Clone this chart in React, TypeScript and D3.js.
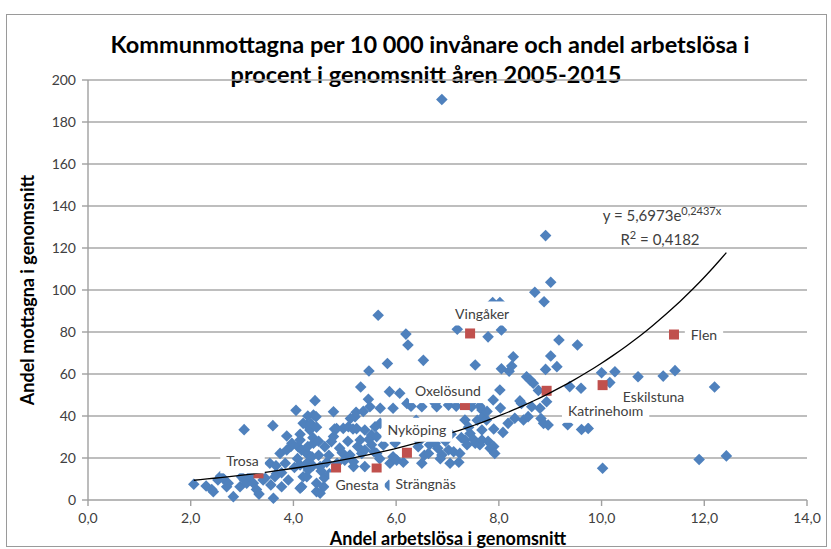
import React, { useEffect, useRef } from "react";
import * as d3 from "d3";

// [andel arbetslösa, mottagna per 10 000] for each kommun
const kommuner: [number, number][] = [
  [2.06, 7.5], [2.3, 6.7], [2.41, 5.0], [2.44, 3.9], [2.53, 9.5], [2.58, 11.3], [2.63, 10.3],
  [2.7, 6.3], [2.73, 8.0], [2.83, 1.6], [2.96, 6.3], [2.99, 11.1], [3.04, 33.5], [3.04, 9.7],
  [3.09, 8.0], [3.15, 11.3], [3.22, 8.0], [3.28, 5.0], [3.33, 2.8], [3.41, 9.5], [3.45, 10.5],
  [3.54, 17.5], [3.56, 7.2], [3.6, 35.4], [3.61, 0.8], [3.64, 11.1], [3.66, 16.3], [3.67, 12.5],
  [3.74, 22.2], [3.77, 13.0], [3.77, 6.3], [3.84, 17.5], [3.87, 23.8], [3.87, 30.5], [3.9, 9.5],
  [3.95, 25.5], [3.97, 27.0], [4.02, 15.5], [4.05, 42.7], [4.08, 19.7], [4.09, 25.4], [4.13, 28.6],
  [4.13, 31.3], [4.13, 16.7], [4.13, 5.6], [4.16, 23.8], [4.16, 6.3], [4.19, 36.5], [4.19, 11.1],
  [4.23, 23.0], [4.26, 15.9], [4.26, 35.7], [4.26, 22.2], [4.26, 11.1], [4.28, 25.5], [4.28, 18.0],
  [4.28, 40.0], [4.29, 14.3], [4.32, 33.3], [4.34, 36.3], [4.36, 20.6], [4.38, 29.7], [4.38, 16.3],
  [4.39, 40.5], [4.39, 27.0], [4.42, 47.3], [4.44, 39.7], [4.45, 34.7], [4.45, 4.0], [4.45, 8.0],
  [4.49, 28.0], [4.49, 21.3], [4.52, 15.9], [4.52, 3.2], [4.54, 13.8], [4.59, 6.3], [4.6, 10.5],
  [4.61, 25.4], [4.65, 18.0], [4.69, 21.3], [4.7, 12.5], [4.74, 27.8], [4.78, 42.0], [4.78, 30.2],
  [4.8, 33.8], [4.84, 34.0], [4.85, 17.5], [4.9, 24.7], [4.95, 22.5], [4.97, 34.1], [5.0, 19.0],
  [5.06, 28.0], [5.07, 34.9], [5.1, 21.4], [5.11, 38.8], [5.16, 33.8], [5.17, 15.9], [5.17, 18.2],
  [5.2, 39.7], [5.22, 41.8], [5.23, 34.0], [5.25, 25.5], [5.3, 28.6], [5.31, 53.8], [5.33, 22.2],
  [5.36, 42.2], [5.39, 33.3], [5.39, 23.8], [5.39, 15.9], [5.46, 48.0], [5.49, 44.4], [5.47, 61.4],
  [5.47, 28.8], [5.52, 31.0], [5.52, 26.3], [5.57, 23.0], [5.59, 34.9], [5.62, 22.2], [5.62, 30.2],
  [5.65, 88.0], [5.68, 19.7], [5.69, 43.7], [5.69, 36.5], [5.75, 26.2], [5.83, 65.0], [5.87, 51.6],
  [5.88, 17.5], [5.86, 7.0], [5.93, 33.8], [5.94, 43.7], [5.94, 20.6], [5.98, 27.2], [6.01, 19.0],
  [6.07, 50.8], [6.14, 18.0], [6.19, 79.0], [6.21, 46.0], [6.23, 73.8], [6.29, 44.7], [6.39, 38.0],
  [6.43, 25.4], [6.45, 28.0], [6.5, 44.4], [6.5, 17.5], [6.53, 66.5], [6.55, 21.3], [6.63, 22.2],
  [6.65, 26.3], [6.75, 33.0], [6.76, 46.0], [6.76, 27.0], [6.79, 44.4], [6.81, 24.7], [6.86, 19.7],
  [6.89, 190.7], [6.89, 21.4], [6.96, 28.0], [7.02, 45.2], [7.02, 23.8], [7.05, 17.5], [7.07, 31.3],
  [7.12, 23.0], [7.17, 44.7], [7.19, 81.3], [7.22, 18.0], [7.24, 22.2], [7.27, 29.7], [7.34, 28.6],
  [7.34, 38.1], [7.38, 26.3], [7.41, 34.7], [7.43, 46.3], [7.44, 31.7], [7.47, 44.4], [7.51, 28.8],
  [7.53, 48.0], [7.54, 64.3], [7.54, 27.0], [7.58, 38.0], [7.63, 44.7], [7.63, 26.3], [7.67, 42.9],
  [7.67, 33.3], [7.67, 28.6], [7.69, 39.7], [7.76, 38.1], [7.77, 42.2], [7.79, 77.7], [7.79, 28.0],
  [7.83, 24.6], [7.88, 94.0], [7.89, 47.6], [7.9, 33.8], [7.9, 25.5], [7.92, 22.2], [8.02, 94.0],
  [8.02, 52.4], [8.03, 43.8], [8.05, 81.0], [8.05, 62.5], [8.08, 32.2], [8.18, 36.5], [8.2, 61.3],
  [8.25, 63.8], [8.28, 68.2], [8.31, 38.9], [8.41, 47.2], [8.44, 46.0], [8.48, 38.1], [8.54, 58.7],
  [8.57, 39.7], [8.61, 57.1], [8.67, 55.6], [8.64, 44.4], [8.7, 98.9], [8.77, 52.2], [8.8, 43.7],
  [8.82, 38.8], [8.87, 36.5], [8.88, 94.4], [8.91, 125.9], [8.91, 62.2], [8.93, 46.8], [8.96, 35.7],
  [9.01, 103.7], [9.01, 68.6], [9.13, 63.5], [9.17, 76.2], [9.34, 35.8], [9.38, 54.0], [9.53, 73.8],
  [9.6, 53.2], [9.61, 33.6], [9.74, 34.1], [10.0, 60.6], [10.02, 15.1], [10.16, 55.9], [10.26, 61.1],
  [10.71, 58.7], [11.2, 59.0], [11.43, 61.6], [11.9, 19.3], [12.2, 53.8], [12.43, 21.0],
];

// Södermanlands kommuner, marked in red
const sormlandNamn = ["Trosa", "Gnesta", "Strängnäs", "Nyköping", "Oxelösund", "Vingåker", "Katrineholm", "Eskilstuna", "Flen"];
const sormlandArbetslosa = [3.32, 4.83, 5.62, 6.21, 7.34, 7.44, 8.93, 10.02, 11.41];
const sormlandMottagna = [12.7, 15.0, 15.0, 22.5, 45.2, 79.3, 52.0, 54.7, 78.8];

const xTicks = [0, 2, 4, 6, 8, 10, 12, 14];
const yTicks = [0, 20, 40, 60, 80, 100, 120, 140, 160, 180, 200];

// exponential trendline from Excel
const trendA = 5.6973;
const trendB = 0.2437;
const trendR2 = 0.4182;

const font = "Lato, 'Liberation Sans', sans-serif";
const blue = "#4F81BD";
const red = "#C0504D";

export default function App() {
  const ref = useRef<SVGSVGElement>(null);

  useEffect(() => {
    document.body.style.margin = "0";
    const svg = d3.select(ref.current);
    svg.selectAll("*").remove();

    const x = d3.scaleLinear().domain([0, 14]).range([88, 807]);
    const y = d3.scaleLinear().domain([0, 200]).range([500, 80]);
    const comma = (v: number, d: number) => v.toFixed(d).replace(".", ",");

    svg.append("rect").attr("x", 6.5).attr("y", 14.5).attr("width", 820).attr("height", 532)
      .attr("fill", "#fff").attr("stroke", "#9a9a9a");

    // title
    const title = svg.append("text").attr("text-anchor", "middle").attr("font-family", font)
      .attr("font-weight", "bold").attr("font-size", 23.5).attr("fill", "#000");
    title.append("tspan").attr("x", 430).attr("y", 53).text("Kommunmottagna per 10 000 invånare och andel arbetslösa i");
    title.append("tspan").attr("x", 426).attr("y", 83).text("procent i genomsnitt åren 2005-2015");

    // gridlines
    svg.append("g").selectAll("line").data(yTicks.filter((t) => t > 0)).join("line")
      .attr("x1", x(0)).attr("x2", x(14)).attr("y1", (d) => y(d)).attr("y2", (d) => y(d))
      .attr("stroke", "#a8a8a8").attr("stroke-width", 1.4);

    // y axis
    const yAxis = svg.append("g");
    yAxis.append("line").attr("x1", x(0)).attr("x2", x(0)).attr("y1", y(0)).attr("y2", y(200))
      .attr("stroke", "#a0a0a0").attr("stroke-width", 1.4);
    yAxis.selectAll("line.tick").data(yTicks).join("line").attr("class", "tick")
      .attr("x1", x(0) - 6).attr("x2", x(0)).attr("y1", (d) => y(d)).attr("y2", (d) => y(d))
      .attr("stroke", "#a0a0a0").attr("stroke-width", 1.4);
    yAxis.selectAll("text").data(yTicks).join("text")
      .attr("x", 76).attr("y", (d) => y(d)).attr("dy", "0.35em").attr("text-anchor", "end")
      .attr("font-family", font).attr("font-size", 14).attr("fill", "#404040").text((d) => String(d));

    // x axis
    const xAxis = svg.append("g");
    xAxis.append("line").attr("x1", x(0)).attr("x2", x(14)).attr("y1", y(0)).attr("y2", y(0))
      .attr("stroke", "#a0a0a0").attr("stroke-width", 1.4);
    xAxis.selectAll("line.tick").data(xTicks).join("line").attr("class", "tick")
      .attr("x1", (d) => x(d)).attr("x2", (d) => x(d)).attr("y1", y(0)).attr("y2", y(0) + 6)
      .attr("stroke", "#a0a0a0").attr("stroke-width", 1.4);
    xAxis.selectAll("text").data(xTicks).join("text")
      .attr("x", (d) => x(d)).attr("y", 523).attr("text-anchor", "middle")
      .attr("font-family", font).attr("font-size", 14).attr("fill", "#404040").text((d) => comma(d, 1));

    // axis titles
    svg.append("text").attr("x", 448).attr("y", 545).attr("text-anchor", "middle")
      .attr("font-family", font).attr("font-weight", "bold").attr("font-size", 18).attr("fill", "#000")
      .text("Andel arbetslösa i genomsnitt");
    svg.append("text").attr("transform", "translate(34,290) rotate(-90)").attr("text-anchor", "middle")
      .attr("font-family", font).attr("font-weight", "bold").attr("font-size", 18).attr("fill", "#000")
      .text("Andel mottagna i genomsnitt");

    // blue diamonds
    const r = 5.8;
    svg.append("g").selectAll("path").data(kommuner).join("path")
      .attr("transform", (d) => `translate(${x(d[0])},${y(d[1])})`)
      .attr("d", `M0,${-r}L${r},0L0,${r}L${-r},0Z`).attr("fill", blue);

    // red squares
    const s = 10;
    svg.append("g").selectAll("rect").data(sormlandNamn).join("rect")
      .attr("x", (_, i) => x(sormlandArbetslosa[i]) - s / 2).attr("y", (_, i) => y(sormlandMottagna[i]) - s / 2)
      .attr("width", s).attr("height", s).attr("fill", red);

    // trendline
    const allX = kommuner.map((d) => d[0]).concat(sormlandArbetslosa);
    const [x0, x1] = d3.extent(allX) as [number, number];
    const samples = d3.range(0, 81).map((i) => x0 + ((x1 - x0) * i) / 80);
    const line = d3.line<number>().x((d) => x(d)).y((d) => y(trendA * Math.exp(trendB * d)));
    svg.append("path").attr("d", line(samples)).attr("fill", "none").attr("stroke", "#000").attr("stroke-width", 1.3);

    // data labels (offset in px from the marker)
    const labelOffset: Record<string, [number, number]> = {
      Trosa: [-16, -12],
      Gnesta: [21, 16],
      Strängnäs: [49, 15],
      Nyköping: [10, -23],
      Oxelösund: [-17, -14],
      Vingåker: [12, -20],
      Katrineholm: [59, 20],
      Eskilstuna: [51, 12],
      Flen: [30, 0],
    };
    const labels = svg.append("g");
    sormlandNamn.forEach((name, i) => {
      const [dx, dy] = labelOffset[name];
      const cx = x(sormlandArbetslosa[i]) + dx;
      const cy = y(sormlandMottagna[i]) + dy;
      const g = labels.append("g");
      const box = g.append("rect").attr("fill", "#fff");
      const t = g.append("text").attr("x", cx).attr("y", cy).attr("dy", "0.36em").attr("text-anchor", "middle")
        .attr("font-family", font).attr("font-size", 14).attr("fill", "#404040").text(name);
      const w = (t.node() as SVGTextElement).getComputedTextLength();
      box.attr("x", cx - w / 2 - 6).attr("y", cy - 12).attr("width", w + 12).attr("height", 24);
    });

    // trendline equation
    const eq = svg.append("text").attr("x", 662).attr("y", 221).attr("text-anchor", "middle")
      .attr("font-family", font).attr("font-size", 15).attr("fill", "#404040");
    eq.append("tspan").text(`y = ${comma(trendA, 4)}e`);
    eq.append("tspan").attr("dy", -6).attr("font-size", 11).text(`${comma(trendB, 4)}x`);
    const r2 = svg.append("text").attr("x", 660).attr("y", 245).attr("text-anchor", "middle")
      .attr("font-family", font).attr("font-size", 15).attr("fill", "#404040");
    r2.append("tspan").text("R");
    r2.append("tspan").attr("dy", -6).attr("font-size", 11).text("2");
    r2.append("tspan").attr("dy", 6).text(` = ${comma(trendR2, 4)}`);
  }, []);

  return <svg ref={ref} width={831} height={549} style={{ display: "block", background: "#fff" }} />;
}
